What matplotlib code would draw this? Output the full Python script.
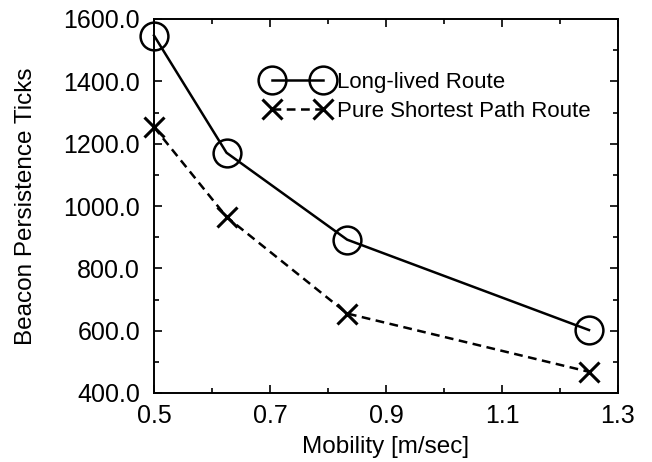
import matplotlib
matplotlib.use('Agg')
import matplotlib.pyplot as plt
from matplotlib.ticker import FixedLocator, FormatStrFormatter, MultipleLocator

plt.rcParams['font.family'] = ['Liberation Sans', 'DejaVu Sans']

# data
mobility = [0.5, 0.625, 0.833, 1.25]
long_lived = [1547, 1171, 892, 602]
shortest_path = [1253, 965, 655, 468]

x_major = [0.5, 0.7, 0.9, 1.1, 1.3]
x_minor = [0.6, 0.8, 1.0, 1.2]

fig = plt.figure(figsize=(6.52, 4.62), dpi=100)
ax = fig.add_axes([154 / 652, 1 - 393 / 462, 464 / 652, 374 / 462])

ax.plot(mobility, long_lived, color='black', linewidth=1.8, marker='o',
        markersize=20, markerfacecolor='none', markeredgewidth=1.8,
        label='Long-lived Route', clip_on=False)
ax.plot(mobility, shortest_path, color='black', linewidth=1.8, linestyle=(0, (3.5, 2.2)),
        marker='x', markersize=15, markeredgewidth=2.2,
        label='Pure Shortest Path Route', clip_on=False)

ax.set_xlim(0.5, 1.3)
ax.set_ylim(400, 1600)
ax.xaxis.set_major_locator(FixedLocator(x_major))
ax.xaxis.set_minor_locator(FixedLocator(x_minor))
ax.yaxis.set_major_locator(MultipleLocator(200))
ax.yaxis.set_minor_locator(MultipleLocator(100))
ax.xaxis.set_major_formatter(FormatStrFormatter('%.1f'))
ax.yaxis.set_major_formatter(FormatStrFormatter('%.1f'))

ax.tick_params(which='both', direction='in', top=True, right=True, labelsize=18, width=1.2)
ax.tick_params(which='major', length=6)
ax.tick_params(which='minor', length=3.5)
ax.tick_params(axis='y', which='major', pad=10)
ax.tick_params(axis='x', which='major', pad=8)
for s in ax.spines.values():
    s.set_linewidth(1.4)

ax.set_xlabel('Mobility [m/sec]', fontsize=17.5, labelpad=6)
ax.set_ylabel('Beacon Persistence Ticks', fontsize=17.5, labelpad=19)

ax.legend(loc='upper left', bbox_to_anchor=(0.239, 0.858), frameon=False, fontsize=16,
          numpoints=2, handlelength=2.9, handletextpad=0.33, borderpad=0, borderaxespad=0,
          labelspacing=0.34)

fig.savefig('out.png', dpi=100)
